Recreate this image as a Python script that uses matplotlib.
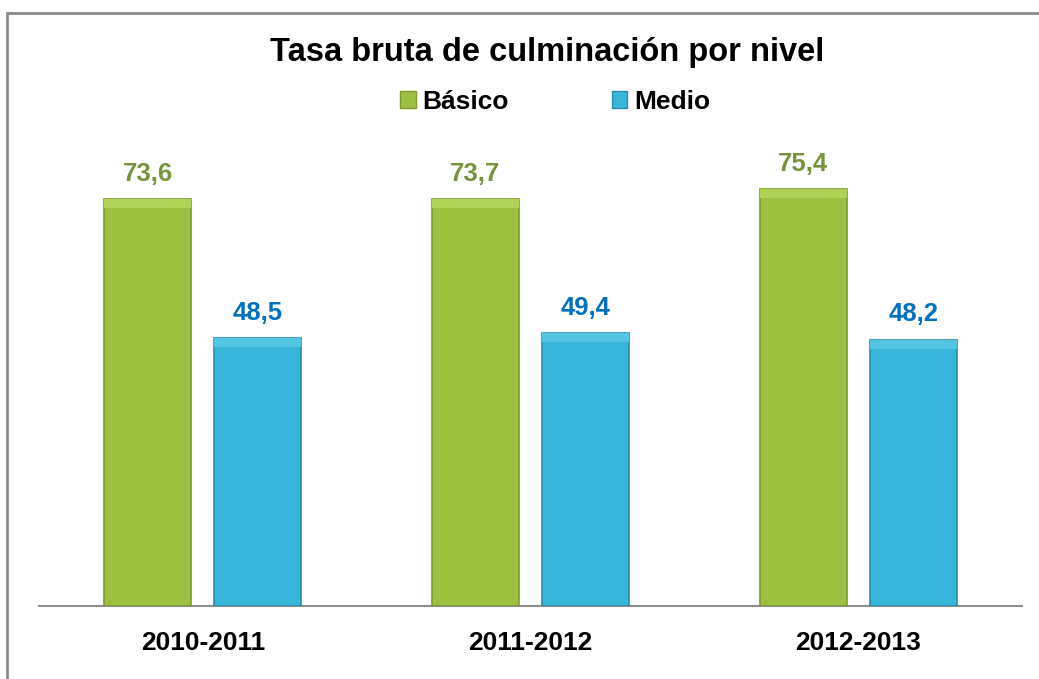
import matplotlib
matplotlib.use("Agg")
import matplotlib.pyplot as plt
from matplotlib.patches import Patch, Rectangle
import numpy as np

categories = ["2010-2011", "2011-2012", "2012-2013"]
basico = [73.6, 73.7, 75.4]
medio = [48.5, 49.4, 48.2]
series_names = ["Básico", "Medio"]
title = "Tasa bruta de culminación por nivel"

plt.rcParams['font.family'] = ['Liberation Sans', 'DejaVu Sans']

fig = plt.figure(figsize=(10.39, 6.79), dpi=100)
ax = fig.add_axes([39/1039, 1-606/679, (1022-39)/1039, (606-164)/679])

x = np.arange(len(categories))
w = 0.266
off = 0.168
green_face = "#9DC13F"
green_edge = "#7A9A2C"
blue_face = "#38B6D9"
blue_edge = "#2A8DAA"
green_lbl = "#77933C"
blue_lbl = "#0070C0"

b1 = ax.bar(x - off, basico, w, color=green_face, edgecolor=green_edge, linewidth=1.2, zorder=3)
b2 = ax.bar(x + off, medio, w, color=blue_face, edgecolor=blue_edge, linewidth=1.2, zorder=3)

# subtle lighter top bevel derived from bar geometry
for bars, col in ((b1, "#B0D256"), (b2, "#55C5E4")):
    for r in bars:
        h = r.get_height()
        ax.add_patch(Rectangle((r.get_x(), h - 1.6), r.get_width(), 1.6,
                               facecolor=col, edgecolor='none', zorder=4))

for xi, v in zip(x - off, basico):
    ax.text(xi, v + 2.4, f"{v:.1f}".replace('.', ','), ha='center', va='bottom',
            fontsize=18.5, fontweight='bold', color=green_lbl)
for xi, v in zip(x + off, medio):
    ax.text(xi, v + 2.4, f"{v:.1f}".replace('.', ','), ha='center', va='bottom',
            fontsize=18.5, fontweight='bold', color=blue_lbl)

ax.set_xlim(-0.5, 2.5)
ax.set_ylim(0, 80)
ax.set_xticks(x)
ax.set_xticklabels(categories, fontsize=19, fontweight='bold')
ax.tick_params(axis='x', length=0, pad=18)
ax.set_yticks([])
for s in ['top', 'right', 'left']:
    ax.spines[s].set_visible(False)
ax.spines['bottom'].set_color('#8C8C8C')
ax.spines['bottom'].set_linewidth(1.5)
ax.patch.set_alpha(0)

fig.text(547.5/1039, 1-53/679, title, ha='center', va='center',
         fontsize=23.5, fontweight='bold')

handles = [Patch(facecolor=green_face, edgecolor=green_edge),
           Patch(facecolor=blue_face, edgecolor=blue_edge)]
fig.legend(handles, series_names, loc='center', bbox_to_anchor=(555/1039, 1-102/679),
           ncol=2, frameon=False, prop={'weight': 'bold', 'size': 19},
           handlelength=0.6, handleheight=0.6, handletextpad=0.25, columnspacing=3.9)

# outer frame (right and bottom edges lie beyond the image)
fig.add_artist(Rectangle((7/1039, -0.05), 1.2, 1-13/679 + 0.05, transform=fig.transFigure,
                         facecolor='none', edgecolor='#8C8C8C', linewidth=2))

fig.savefig("out.png", dpi=100)
